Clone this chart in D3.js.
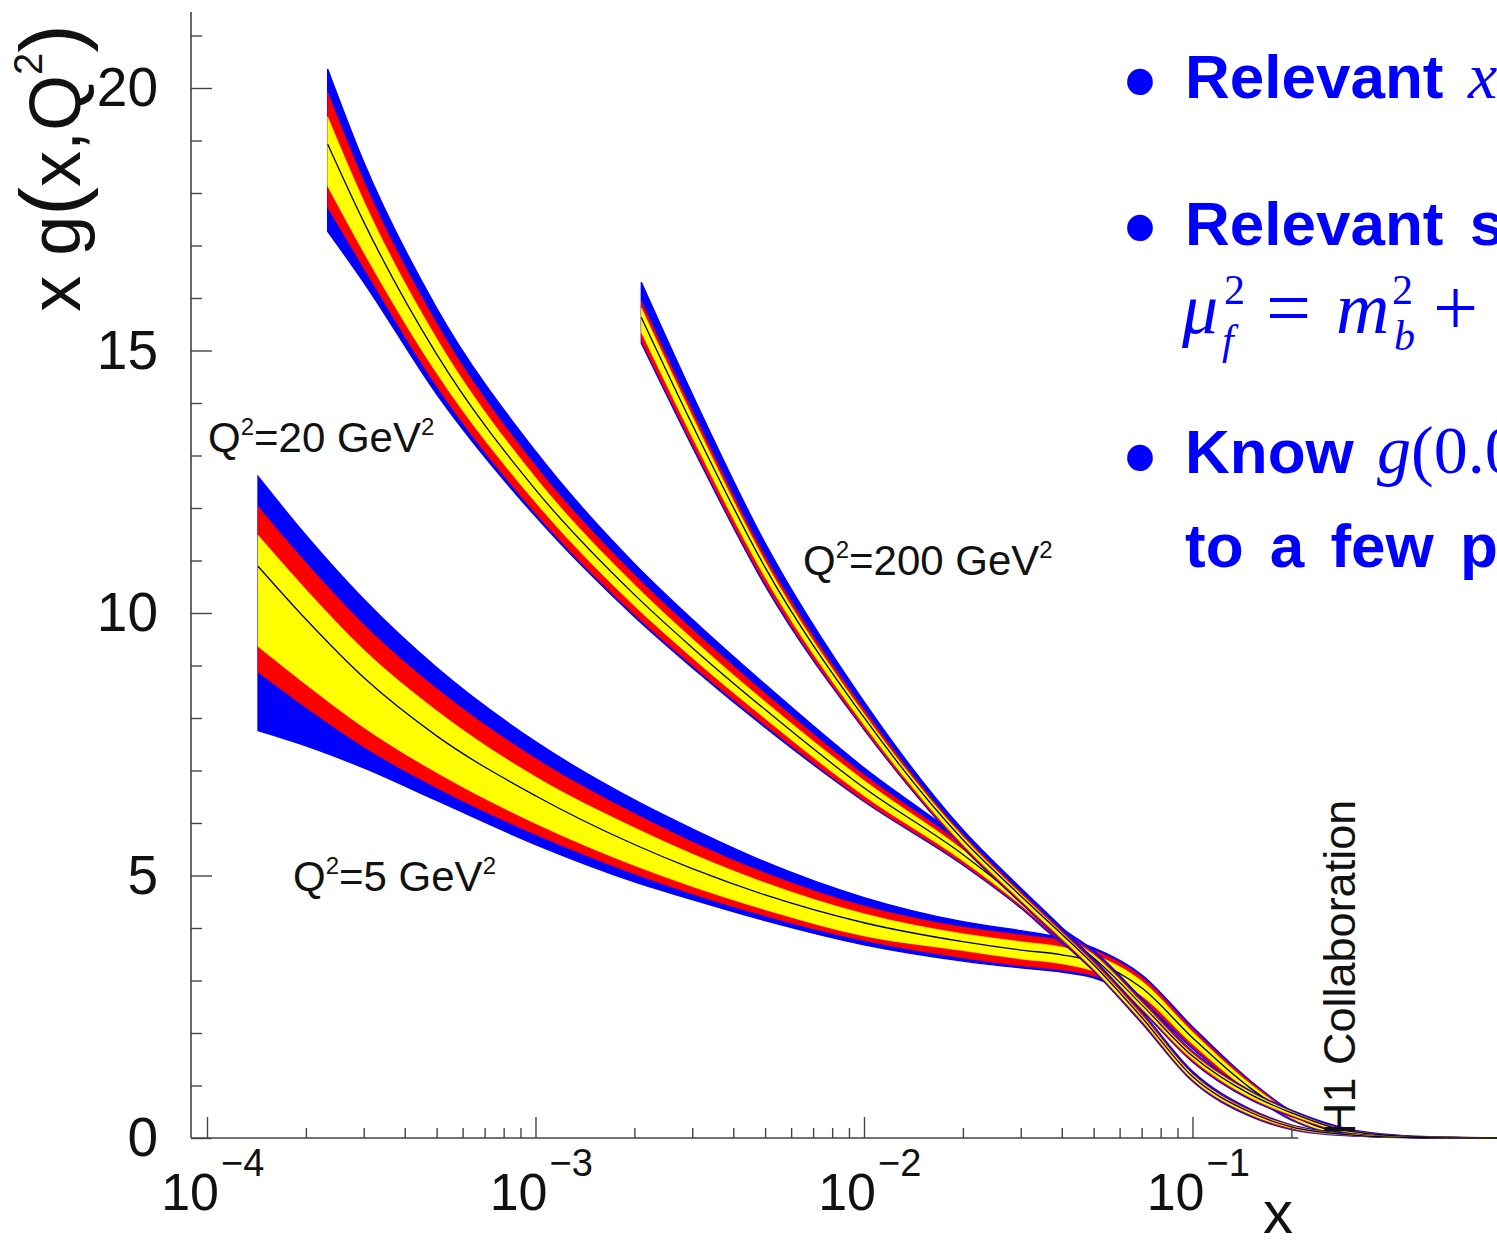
<!DOCTYPE html>
<html>
<head>
<meta charset="utf-8">
<script src="https://cdn.jsdelivr.net/npm/d3@7"></script>
<style>
  html, body { margin: 0; padding: 0; background: #fff; }
  svg { display: block; }
  .lbl { font-family: "Liberation Sans", Arial, sans-serif; fill: #111; }
  .slide { font-family: "Liberation Sans", Arial, sans-serif; font-weight: bold; fill: #0000ff; }
  .math { font-family: "Liberation Serif", "DejaVu Serif", serif; fill: #0000ff; }
</style>
</head>
<body>
<svg id="chart" width="1497" height="1247"></svg>
<script>
// ---- data: x g(x,Q2) bands (outer = blue, middle = red, inner = yellow) ----
const xs5   = [1.43e-4, 2e-4, 3e-4, 5e-4, 1e-3, 2e-3, 3e-3, 5e-3, 1e-2, 2e-2, 3e-2, 4e-2, 5e-2, 7e-2, 0.1, 0.15, 0.2, 0.3, 0.5, 0.9];
const cen5  = [10.89, 9.88, 8.77, 7.66, 6.52, 5.59, 5.13, 4.63, 4.10, 3.74, 3.58, 3.49, 3.36, 2.86, 1.91, 0.95, 0.44, 0.08, 0.012, 0.001];
const yelHi5 = [11.48, 10.45, 9.30, 8.14, 6.88, 5.91, 5.41, 4.86, 4.27, 3.89, 3.74, 3.64, 3.49, 2.99, 2.02, 1.03, 0.48, 0.10, 0.015, 0.001];
const yelLo5 = [9.36, 8.64, 7.82, 6.96, 5.99, 5.19, 4.79, 4.35, 3.85, 3.57, 3.41, 3.32, 3.18, 2.71, 1.79, 0.88, 0.38, 0.06, 0.008, 0.0005];
const redHi5 = [12.03, 10.96, 9.78, 8.56, 7.23, 6.18, 5.64, 5.05, 4.42, 4.02, 3.87, 3.76, 3.58, 3.07, 2.08, 1.07, 0.50, 0.11, 0.02, 0.002];
const redLo5 = [8.87, 8.20, 7.45, 6.67, 5.78, 5.03, 4.65, 4.23, 3.76, 3.43, 3.28, 3.20, 3.09, 2.63, 1.73, 0.84, 0.36, 0.06, 0.006, 0];
const bluHi5 = [12.60, 11.48, 10.26, 8.96, 7.55, 6.44, 5.89, 5.26, 4.58, 4.12, 3.95, 3.81, 3.62, 3.11, 2.12, 1.09, 0.51, 0.11, 0.02, 0.002];
const bluLo5 = [7.76, 7.47, 7.05, 6.43, 5.59, 4.88, 4.54, 4.14, 3.68, 3.37, 3.24, 3.16, 3.05, 2.59, 1.70, 0.82, 0.34, 0.05, 0.005, 0];

const xs20   = [2.33e-4, 3e-4, 5e-4, 1e-3, 2e-3, 3e-3, 5e-3, 1e-2, 2e-2, 3e-2, 4e-2, 5e-2, 7e-2, 0.1, 0.15, 0.2, 0.3, 0.5, 0.9];
const cen20  = [18.93, 17.45, 14.93, 12.35, 10.35, 9.34, 8.16, 6.67, 5.40, 4.53, 3.85, 3.43, 2.54, 1.56, 0.83, 0.48, 0.13, 0.02, 0.001];
const yelHi20 = [19.45, 17.85, 15.23, 12.58, 10.54, 9.51, 8.31, 6.81, 5.49, 4.61, 3.90, 3.49, 2.58, 1.60, 0.87, 0.50, 0.14, 0.02, 0.001];
const yelLo20 = [18.13, 16.87, 14.57, 12.11, 10.14, 9.15, 7.99, 6.52, 5.28, 4.44, 3.77, 3.36, 2.47, 1.50, 0.77, 0.44, 0.11, 0.02, 0.0005];
const redHi20 = [19.92, 18.23, 15.52, 12.81, 10.73, 9.69, 8.47, 6.92, 5.57, 4.65, 3.96, 3.53, 2.62, 1.64, 0.88, 0.51, 0.15, 0.03, 0.002];
const redLo20 = [17.73, 16.57, 14.32, 11.90, 9.97, 9.00, 7.86, 6.43, 5.22, 4.40, 3.73, 3.32, 2.45, 1.46, 0.75, 0.42, 0.10, 0.01, 0];
const bluHi20 = [20.36, 18.59, 15.81, 13.08, 10.94, 9.88, 8.64, 7.05, 5.66, 4.71, 4.00, 3.57, 2.66, 1.65, 0.90, 0.53, 0.17, 0.03, 0.002];
const bluLo20 = [17.27, 16.30, 14.17, 11.84, 9.93, 8.96, 7.82, 6.41, 5.20, 4.38, 3.71, 3.30, 2.43, 1.45, 0.73, 0.41, 0.10, 0.01, 0];

const xs200   = [2.1e-3, 3e-3, 5e-3, 1e-2, 2e-2, 3e-2, 4e-2, 5e-2, 7e-2, 0.1, 0.15, 0.2, 0.3, 0.5, 0.9];
const cen200  = [15.63, 13.59, 10.87, 8.01, 5.68, 4.61, 3.88, 3.30, 2.30, 1.17, 0.49, 0.21, 0.06, 0.005, 0];
const yelHi200 = [15.81, 13.75, 10.98, 8.08, 5.74, 4.65, 3.91, 3.33, 2.34, 1.21, 0.51, 0.23, 0.07, 0.01, 0.001];
const yelLo200 = [15.35, 13.35, 10.68, 7.87, 5.59, 4.53, 3.80, 3.22, 2.24, 1.12, 0.45, 0.19, 0.05, 0.004, 0];
const redHi200 = [15.94, 13.86, 11.08, 8.16, 5.78, 4.69, 3.95, 3.37, 2.38, 1.23, 0.53, 0.24, 0.07, 0.01, 0.001];
const redLo200 = [15.18, 13.21, 10.56, 7.80, 5.55, 4.50, 3.76, 3.20, 2.21, 1.10, 0.43, 0.17, 0.05, 0.003, 0];
const bluHi200 = [16.30, 14.17, 11.33, 8.31, 5.87, 4.76, 4.01, 3.41, 2.41, 1.27, 0.55, 0.25, 0.08, 0.01, 0.001];
const bluLo200 = [15.14, 13.17, 10.52, 7.78, 5.53, 4.48, 3.74, 3.18, 2.19, 1.08, 0.41, 0.16, 0.04, 0.003, 0];

const yMajor = [0, 5, 10, 15, 20];
const xDecades = [-4, -3, -2, -1];

const bands = [
  { xs: xs5, c: cen5, yel: [yelLo5, yelHi5], red: [redLo5, redHi5], blu: [bluLo5, bluHi5] },
  { xs: xs20, c: cen20, yel: [yelLo20, yelHi20], red: [redLo20, redHi20], blu: [bluLo20, bluHi20] },
  { xs: xs200, c: cen200, yel: [yelLo200, yelHi200], red: [redLo200, redHi200], blu: [bluLo200, bluHi200] }
];

const svg = d3.select('#chart');

const x = d3.scaleLog().domain([1e-4, 1e-1]).range([207, 1192.5]);
const y = d3.scaleLinear().domain([0, 20]).range([1138, 88]);
const xEnds = [8.94e-5, 0.21];
const yTop = 21.45;

// ---- bands ----
const curve = d3.curveMonotoneX;
bands.forEach(b => {
  const g = svg.append('g');
  const layers = [[b.blu, '#0000ff'], [b.red, '#ff0000'], [b.yel, '#ffff00']];
  layers.forEach(([lim, col]) => {
    const area = d3.area()
      .curve(curve)
      .x((d, i) => x(b.xs[i]))
      .y0((d, i) => y(lim[0][i]))
      .y1((d, i) => y(lim[1][i]));
    g.append('path')
      .attr('d', area(b.xs))
      .attr('fill', col)
      .attr('stroke', col)
      .attr('stroke-width', col === '#0000ff' ? 1.4 : 0.6);
  });
  const line = d3.line().curve(curve)
    .x((d, i) => x(b.xs[i]))
    .y((d, i) => y(b.c[i]));
  g.append('path')
    .attr('d', line(b.xs))
    .attr('fill', 'none')
    .attr('stroke', '#000')
    .attr('stroke-width', 1.3);
});

// ---- axes ----
const axisCol = '#444';
svg.append('line')
  .attr('x1', x(xEnds[0])).attr('x2', x(xEnds[1]))
  .attr('y1', y(0)).attr('y2', y(0))
  .attr('stroke', axisCol).attr('stroke-width', 1.6);
svg.append('line')
  .attr('x1', x(xEnds[0])).attr('x2', x(xEnds[0]))
  .attr('y1', y(0)).attr('y2', y(yTop))
  .attr('stroke', axisCol).attr('stroke-width', 1.6);

const xMinor = [];
xDecades.forEach(d => {
  for (let k = 2; k <= 9; k++) {
    const v = k * Math.pow(10, d);
    if (v <= xEnds[1]) xMinor.push(v);
  }
});

function styleAxis(g) {
  g.select('.domain').remove();
  g.selectAll('.tick line').attr('stroke', axisCol).attr('stroke-width', 1.4);
}

svg.append('g')
  .attr('transform', `translate(0,${y(0)})`)
  .call(d3.axisBottom(x).tickValues(xDecades.map(d => Math.pow(10, d))).tickSize(-21).tickFormat(''))
  .call(styleAxis);
svg.append('g')
  .attr('transform', `translate(0,${y(0)})`)
  .call(d3.axisBottom(x).tickValues(xMinor).tickSize(-10).tickFormat(''))
  .call(styleAxis);

const yMinor = d3.range(1, 22).filter(v => v % 5 !== 0);
const x0 = x(xEnds[0]);
svg.append('g')
  .attr('transform', `translate(${x0},0)`)
  .call(d3.axisLeft(y).tickValues(yMajor).tickSize(-21).tickPadding(33).tickFormat(d3.format('d')))
  .call(styleAxis)
  .call(g => g.selectAll('.tick text')
    .attr('font-size', 55)
    .attr('font-family', '"Liberation Sans", Arial, sans-serif')
    .attr('fill', '#111'));
svg.append('g')
  .attr('transform', `translate(${x0},0)`)
  .call(d3.axisLeft(y).tickValues(yMinor).tickSize(-11).tickFormat(''))
  .call(styleAxis);

// x tick labels 10^n
xDecades.forEach(d => {
  const px = x(Math.pow(10, d));
  svg.append('text').attr('class', 'lbl')
    .attr('x', px + 12).attr('y', 1210)
    .attr('text-anchor', 'end').attr('font-size', 52)
    .text('10');
  svg.append('text').attr('class', 'lbl')
    .attr('x', px + 14).attr('y', 1176)
    .attr('font-size', 38)
    .text('\u2212' + Math.abs(d));
});

// axis titles
svg.append('text').attr('class', 'lbl')
  .attr('x', 1278).attr('y', 1233)
  .attr('text-anchor', 'middle').attr('font-size', 60)
  .text('x');

const yt = svg.append('text').attr('class', 'lbl')
  .attr('transform', 'translate(80,168) rotate(-90)')
  .attr('text-anchor', 'middle').attr('font-size', 72);
yt.append('tspan').text('x g');
yt.append('tspan').attr('font-size', 86).text('(');
yt.append('tspan').text('x,Q');
yt.append('tspan').attr('font-size', 40).attr('dy', -38).text('2');
yt.append('tspan').attr('font-size', 86).attr('dy', 38).text(')');

// Q2 annotations
function q2Label(px, py, val) {
  const t = svg.append('text').attr('class', 'lbl')
    .attr('x', px).attr('y', py).attr('font-size', 42);
  t.append('tspan').text('Q');
  t.append('tspan').attr('font-size', 24).attr('dy', -17).text('2');
  t.append('tspan').attr('dy', 17).text('=' + val + ' GeV');
  t.append('tspan').attr('font-size', 24).attr('dy', -17).text('2');
}
q2Label(208, 452, 20);
q2Label(293, 891, 5);
q2Label(803, 575, 200);

svg.append('text').attr('class', 'lbl')
  .attr('transform', 'translate(1355,1135) rotate(-90)')
  .attr('font-size', 45)
  .text('H1 Collaboration');

// ---- slide text on the right ----
function bullet(cy) {
  svg.append('text').attr('class', 'slide')
    .attr('x', 1140).attr('y', cy + 31)
    .attr('text-anchor', 'middle').attr('font-size', 90)
    .text('\u2022');
}
bullet(81);
svg.append('text').attr('class', 'slide').attr('x', 1185).attr('y', 98)
  .attr('font-size', 62).text('Relevant');
svg.append('text').attr('class', 'math').attr('x', 1468).attr('y', 98)
  .attr('font-size', 66).attr('font-style', 'italic').text('x');

bullet(227);
svg.append('text').attr('class', 'slide').attr('x', 1185).attr('y', 245)
  .attr('font-size', 62).attr('word-spacing', 9).text('Relevant s');

const m = svg.append('text').attr('class', 'math');
[
  ['\u03bc', 1182, 333, 72, true],
  ['2', 1224, 304, 42, false],
  ['f', 1222, 354, 42, true],
  ['=', 1266, 335, 80, false],
  ['m', 1336, 333, 74, true],
  ['2', 1392, 304, 42, false],
  ['b', 1394, 350, 42, true],
  ['+', 1433, 335, 80, false]
].forEach(([s, px, py, fs, it]) => {
  m.append('tspan').attr('x', px).attr('y', py).attr('font-size', fs)
    .attr('font-style', it ? 'italic' : 'normal').text(s);
});

bullet(457);
svg.append('text').attr('class', 'slide').attr('x', 1185).attr('y', 473)
  .attr('font-size', 62).text('Know');
const k = svg.append('text').attr('class', 'math').attr('x', 1377).attr('y', 473).attr('font-size', 68);
k.append('tspan').attr('font-style', 'italic').text('g');
k.append('tspan').text('(0.0');

svg.append('text').attr('class', 'slide').attr('x', 1185).attr('y', 567)
  .attr('font-size', 62).attr('word-spacing', 9).text('to a few p');
</script>
</body>
</html>
